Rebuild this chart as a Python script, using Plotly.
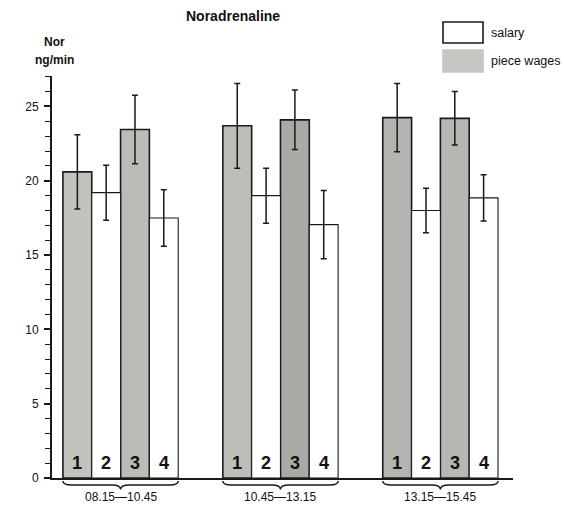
import plotly.graph_objects as go

# Noradrenaline excretion (ng/min) per work period, salary vs piece wages
periods = ["08.15\u201410.45", "10.45\u201413.15", "13.15\u201415.45"]
bar_labels = ["1", "2", "3", "4"]
pay_form = ["piece wages", "salary", "piece wages", "salary"]

nor_mean = [
    [20.6, 19.2, 23.45, 17.5],
    [23.7, 19.0, 24.1, 17.05],
    [24.25, 18.0, 24.2, 18.85],
]
nor_err = [
    [2.5, 1.85, 2.3, 1.9],
    [2.85, 1.85, 2.0, 2.3],
    [2.3, 1.5, 1.8, 1.55],
]

# printed shades of the hatched piece-wage bars
piece_shades = [["#c3c3be", "#bcbcb7"], ["#bebeb9", "#a9a9a5"], ["#b4b4b0", "#b7b7b3"]]

GROUP_STEP = 5.55   # distance between period groups, in bar widths
FONT = "Liberation Sans, Arial, sans-serif"

# plot area geometry (pixels) used for paper-coordinate decorations
W, H = 564, 505
L_M, R_M, T_M, B_M = 52, 51, 76, 27
PW, PH = W - L_M - R_M, H - T_M - B_M


def px_x(px):
    return (px - L_M) / PW


def px_y(py):
    return (H - B_M - py) / PH


def centre(g, b):
    return g * GROUP_STEP + b


fig = go.Figure()

for kind in ["piece wages", "salary"]:
    xs, ys, es, cols = [], [], [], []
    for g in range(len(periods)):
        k = 0
        for b, form in enumerate(pay_form):
            if form != kind:
                continue
            xs.append(centre(g, b))
            ys.append(nor_mean[g][b])
            es.append(nor_err[g][b])
            cols.append(piece_shades[g][k] if kind == "piece wages" else "white")
            k += 1
    fig.add_trace(go.Bar(
        x=xs, y=ys, width=1.0, name=kind,
        marker=dict(color=cols,
                    line=dict(color="#1a1a1a", width=1.6 if kind == "piece wages" else 1.1)),
        error_y=dict(type="data", array=es, visible=True, color="#1a1a1a",
                     thickness=1.5, width=3),
        showlegend=False,
    ))

annotations = []
shapes = []

# bar numbers at the foot of each bar
for g in range(len(periods)):
    for b, lab in enumerate(bar_labels):
        annotations.append(dict(
            x=centre(g, b), y=0, xref="x", yref="y", text=f"<b>{lab}</b>",
            showarrow=False, yanchor="bottom", yshift=3,
            font=dict(family=FONT, size=18, color="#111"),
        ))

# braces and period labels under each group
y_top, y_mid, y_tip = px_y(481), px_y(485), px_y(489.5)
for g, per in enumerate(periods):
    lft = centre(g, 0) - 0.5
    rgt = centre(g, 3) + 0.5
    mid = (lft + rgt) / 2
    d = 0.3
    path = (f"M {lft},{y_top} Q {lft},{y_mid} {lft + d},{y_mid} "
            f"L {mid - d},{y_mid} Q {mid},{y_mid} {mid},{y_tip} "
            f"Q {mid},{y_mid} {mid + d},{y_mid} "
            f"L {rgt - d},{y_mid} Q {rgt},{y_mid} {rgt},{y_top}")
    shapes.append(dict(type="path", xref="x", yref="paper", path=path,
                       line=dict(color="#1a1a1a", width=1.5)))
    annotations.append(dict(
        x=mid, y=px_y(497), xref="x", yref="paper", text=per,
        showarrow=False, yanchor="middle",
        font=dict(family=FONT, size=12, color="#111"),
    ))

# title and axis caption
annotations += [
    dict(x=px_x(233), y=px_y(16), xref="paper", yref="paper",
         text="<b>Noradrenaline</b>", showarrow=False,
         xanchor="center", yanchor="middle",
         font=dict(family=FONT, size=14, color="#111")),
    dict(x=px_x(54), y=px_y(42), xref="paper", yref="paper",
         text="<b>Nor</b>", showarrow=False, xanchor="center", yanchor="middle",
         font=dict(family=FONT, size=12, color="#111")),
    dict(x=px_x(54), y=px_y(60), xref="paper", yref="paper",
         text="<b>ng/min</b>", showarrow=False, xanchor="center", yanchor="middle",
         font=dict(family=FONT, size=12, color="#111")),
]

# hand-drawn legend box
legend_items = [("salary", "white", 22, 43), ("piece wages", "#c6c6c2", 50, 72)]
for name, col, ya, yb in legend_items:
    shapes.append(dict(type="rect", xref="paper", yref="paper",
                       x0=px_x(443), x1=px_x(483), y0=px_y(yb), y1=px_y(ya),
                       fillcolor=col,
                       line=dict(color="#1a1a1a" if col == "white" else "#c6c6c2", width=1.6)))
    annotations.append(dict(
        x=px_x(489), y=px_y((ya + yb) / 2), xref="paper", yref="paper",
        text=name, showarrow=False, xanchor="left", yanchor="middle",
        font=dict(family=FONT, size=12.5, color="#111"),
    ))

x_lo = centre(0, 0) - 0.5 - 0.38
x_hi = centre(2, 3) + 0.5 + 0.52

fig.update_layout(
    width=W, height=H,
    margin=dict(l=L_M, r=R_M, t=T_M, b=B_M, pad=0),
    paper_bgcolor="white", plot_bgcolor="white",
    barmode="overlay",
    annotations=annotations, shapes=shapes,
    font=dict(family=FONT, color="#111"),
    xaxis=dict(range=[x_lo, x_hi], showgrid=False, zeroline=False,
               showticklabels=False, ticks="", showline=True,
               linecolor="#1a1a1a", linewidth=2),
    yaxis=dict(range=[0, 27.05], showgrid=False, zeroline=False,
               tickmode="linear", tick0=0, dtick=5,
               ticks="outside", ticklen=6, tickwidth=1.5, tickcolor="#1a1a1a",
               minor=dict(dtick=1, tick0=0, ticks="outside", ticklen=5,
                          tickwidth=1.3, tickcolor="#1a1a1a"),
               showline=True, linecolor="#1a1a1a", linewidth=2,
               tickfont=dict(family=FONT, size=12, color="#111"),
               ticklabelstandoff=3),
)

fig.write_html("out.html")
